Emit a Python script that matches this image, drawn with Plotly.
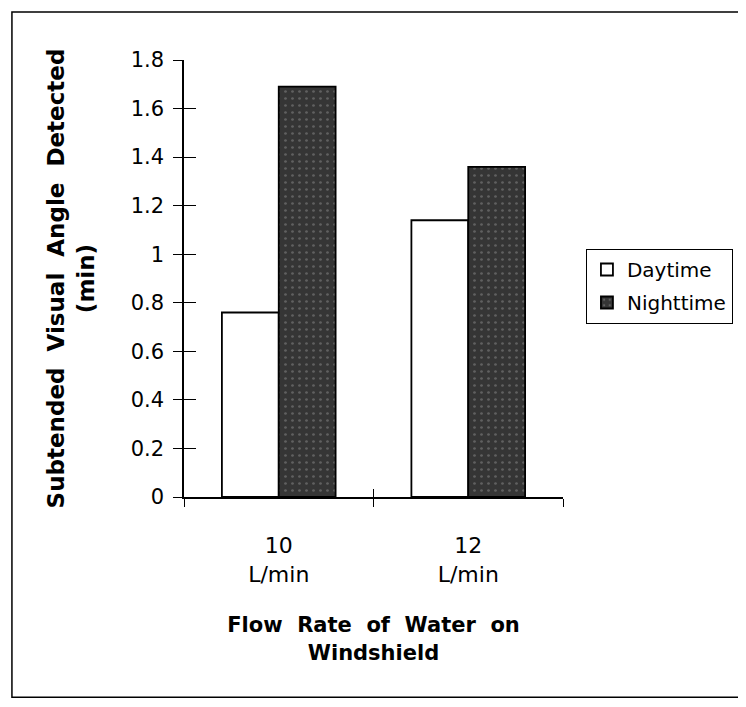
import plotly.graph_objects as go

categories = ["10<br>L/min", "12<br>L/min"]
daytime = [0.76, 1.14]
nighttime = [1.69, 1.36]
yticks = [0, 0.2, 0.4, 0.6, 0.8, 1.0, 1.2, 1.4, 1.6, 1.8]
ytick_labels = ["0", "0.2", "0.4", "0.6", "0.8", "1", "1.2", "1.4", "1.6", "1.8"]

NB = "\u00a0"
ytitle = f"Subtended{NB}{NB}Visual{NB}{NB}Angle{NB}{NB}Detected<br>(min)"
xtitle = f"Flow{NB}{NB}Rate{NB}{NB}of{NB}{NB}Water{NB}{NB}on<br>Windshield"

fig = go.Figure()
fig.add_trace(go.Bar(
    x=categories, y=daytime, name="Daytime",
    marker=dict(color="white", line=dict(color="black", width=1.8)),
    legendgroup="d",
))
fig.add_trace(go.Bar(
    x=categories, y=nighttime, name="Nighttime",
    marker=dict(color="#353535", line=dict(color="black", width=1.8),
                pattern=dict(shape=".", fgcolor="#8c8c8c", size=7, solidity=0.12,
                             fillmode="overlay")),
    legendgroup="n",
))
# invisible helper trace carrying the inside half of the crossing tick marks
fig.add_trace(go.Scatter(
    x=categories, y=daytime, xaxis="x2", yaxis="y2", mode="markers",
    marker=dict(opacity=0), showlegend=False, hoverinfo="skip",
))

fig.update_layout(
    width=738, height=699,
    margin=dict(l=176, r=183, t=52, b=210, autoexpand=False),
    paper_bgcolor="white", plot_bgcolor="white",
    barmode="group", bargap=0.40, bargroupgap=0,
    font=dict(family="DejaVu Sans", color="black", size=20),
    showlegend=True,
    legend=dict(
        x=1.06, y=0.568, xanchor="left", yanchor="top",
        bordercolor="black", borderwidth=1.2, bgcolor="white",
        font=dict(family="DejaVu Sans", size=20, color="black"),
        traceorder="grouped", tracegroupgap=4,
        itemwidth=30,
    ),
    xaxis=dict(
        type="category", categoryarray=categories, range=[-0.5, 1.5],
        showline=True, linecolor="black", linewidth=1.5,
        ticks="outside", ticklen=8, tickwidth=1.2, tickcolor="black",
        tickson="boundaries", showgrid=False, zeroline=False,
        tickfont=dict(family="DejaVu Sans", size=22),
        ticklabelstandoff=28,
        title=dict(text=xtitle, standoff=32,
                   font=dict(family="DejaVu Sans", size=21, weight="bold")),
        automargin=False,
    ),
    xaxis2=dict(
        type="category", categoryarray=categories, range=[-0.5, 1.5],
        overlaying="x", side="bottom", showline=False,
        ticks="inside", ticklen=8, tickwidth=1.2, tickcolor="black",
        tickson="boundaries", showticklabels=False, showgrid=False, zeroline=False,
        matches="x",
    ),
    yaxis=dict(
        range=[0, 1.8], tickvals=yticks, ticktext=ytick_labels,
        showline=True, linecolor="black", linewidth=1.5,
        ticks="outside", ticklen=9, tickwidth=1.2, tickcolor="black",
        showgrid=False, zeroline=False,
        tickfont=dict(family="DejaVu Sans", size=21),
        ticklabelstandoff=5,
        title=dict(text=ytitle, standoff=30,
                   font=dict(family="DejaVu Sans", size=23, weight="bold")),
        automargin=False,
    ),
    yaxis2=dict(
        range=[0, 1.8], tickvals=yticks, overlaying="y", side="left",
        showline=False, ticks="inside", ticklen=12, tickwidth=1.2, tickcolor="black",
        showticklabels=False, showgrid=False, zeroline=False,
    ),
    shapes=[dict(type="rect", xref="paper", yref="paper",
                 x0=-0.454, x1=1.6, y0=-0.458, y1=1.11,
                 line=dict(color="black", width=1.5), fillcolor="rgba(0,0,0,0)",
                 layer="below")],
)

fig.write_html("out.html")
